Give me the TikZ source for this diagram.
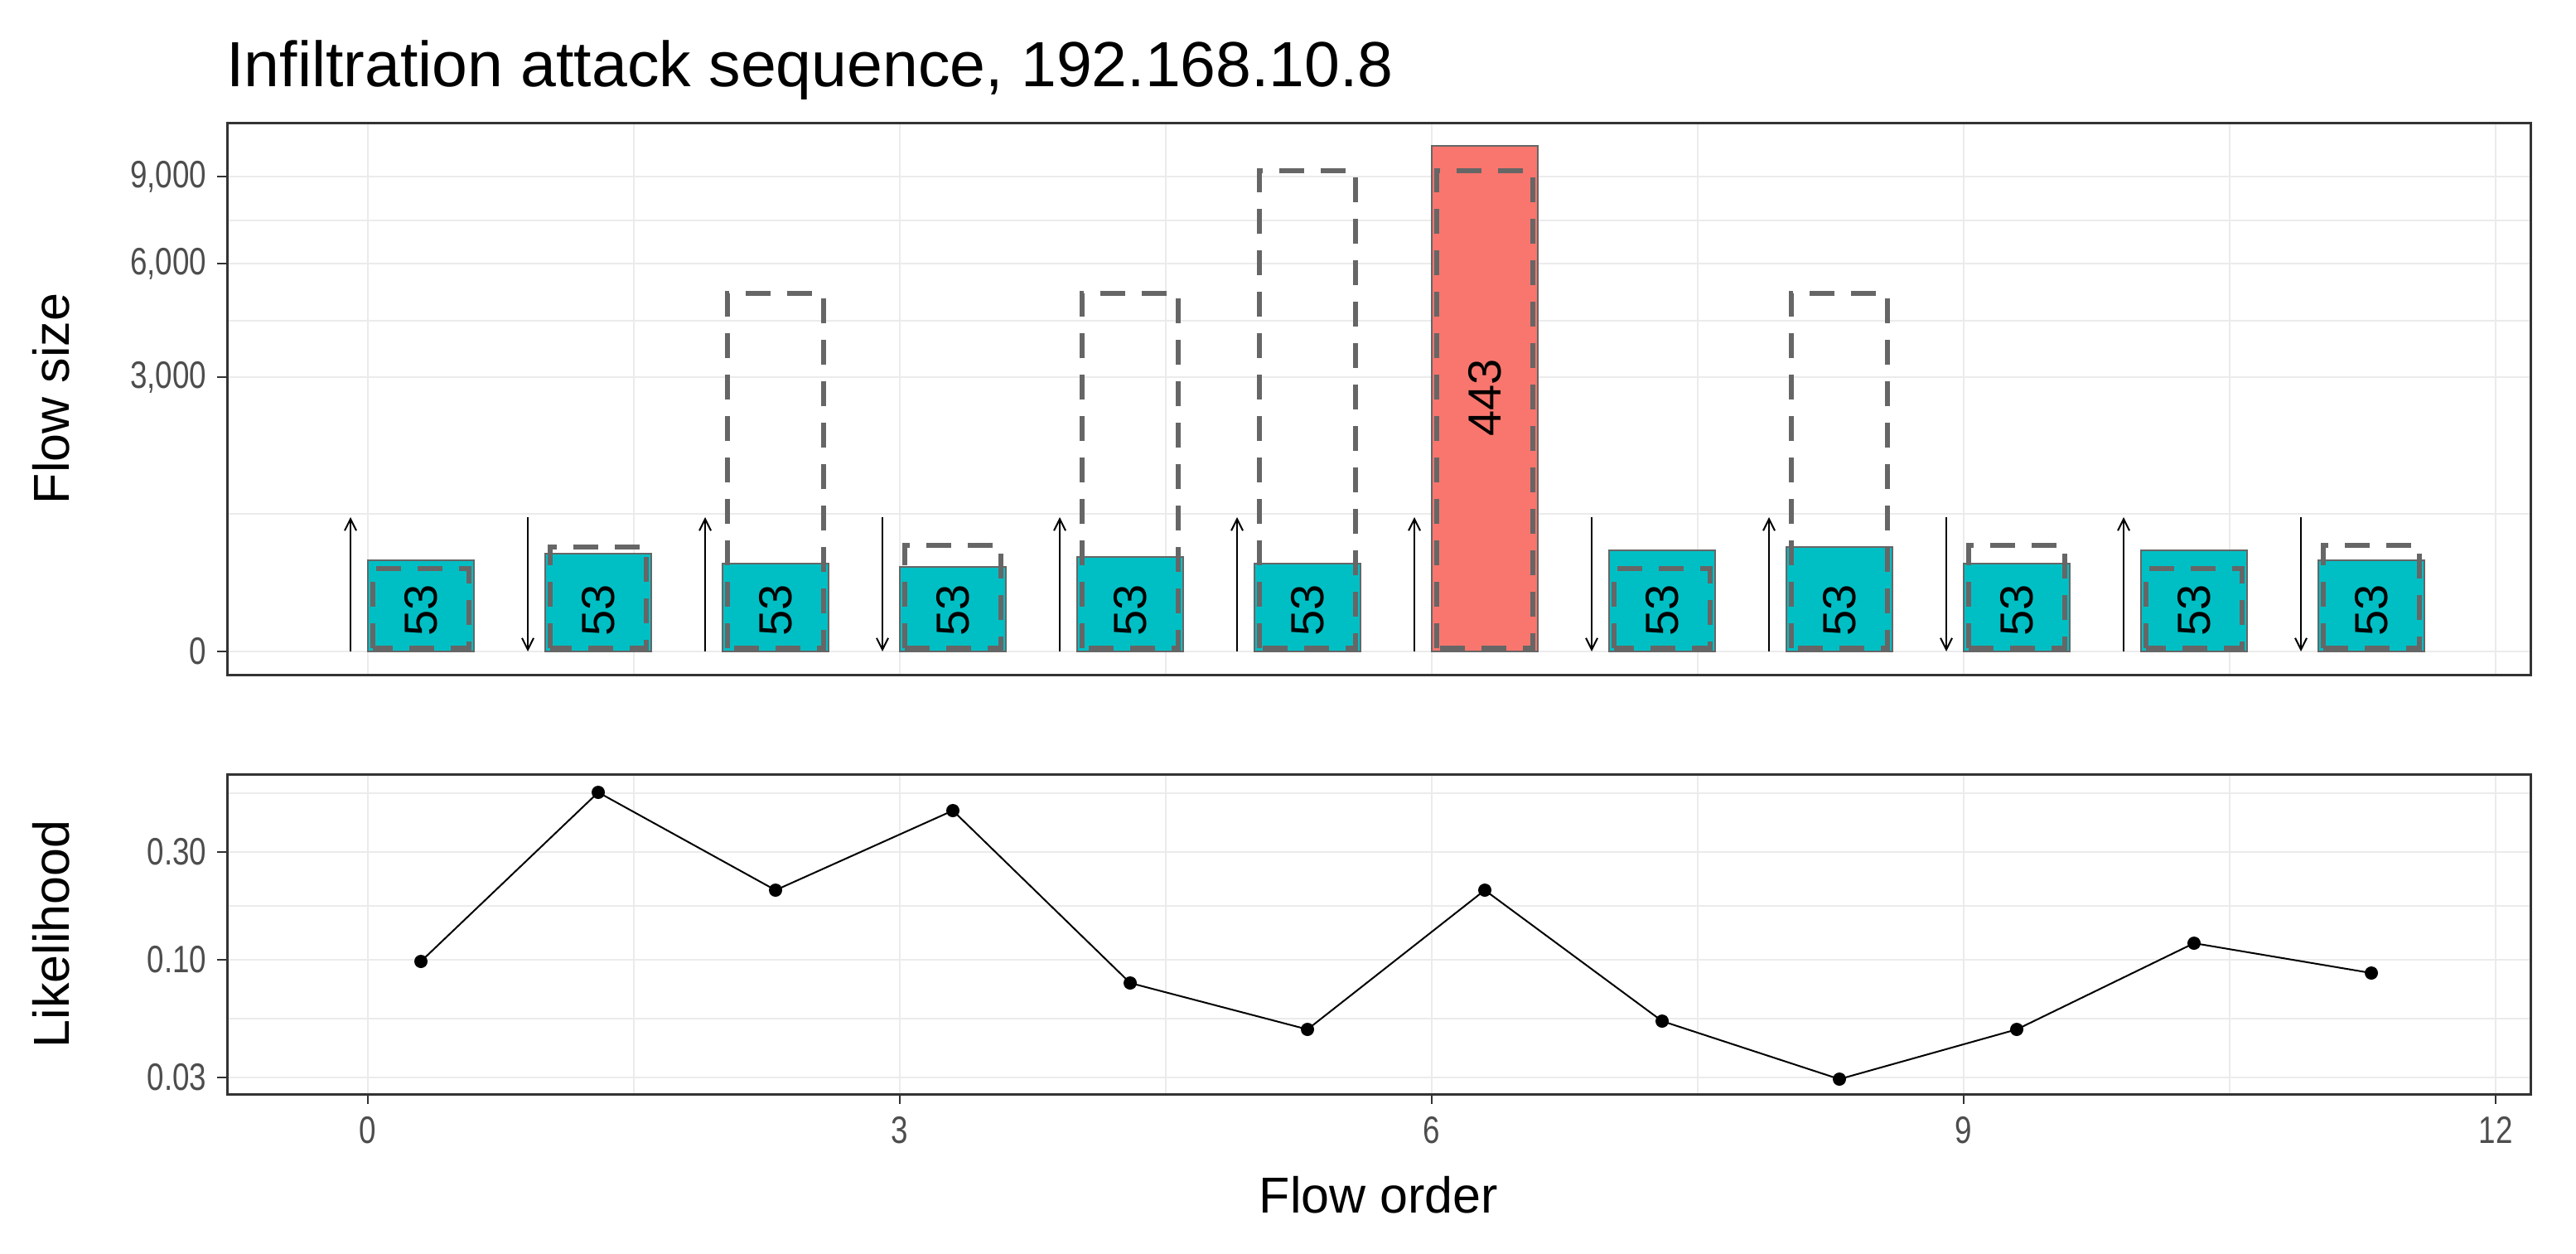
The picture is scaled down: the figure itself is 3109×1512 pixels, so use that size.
\documentclass[tikz,border=0pt]{standalone}
\usepackage{fontspec}
\setmainfont{Liberation Sans}
\usetikzlibrary{arrows.meta}
\definecolor{teal}{HTML}{00BFC4}
\definecolor{salmon}{HTML}{F8766D}
\definecolor{grid}{HTML}{EBEBEB}
\definecolor{g20}{HTML}{333333}
\definecolor{g30}{HTML}{4D4D4D}
\definecolor{g40}{HTML}{666666}
\begin{document}
\begin{tikzpicture}[x=1pt,y=-1pt,
  major/.style={grid,line width=2.4pt},
  minor/.style={grid,line width=1.3pt},
  frame/.style={g20,line width=3pt},
  tick/.style={g20,line width=2.4pt},
  ticklab/.style={g30,font=\fontsize{46}{52}\selectfont,xscale=0.8},
  axtitle/.style={black,font=\fontsize{61}{70}\selectfont},
  bar/.style={line width=2.6pt,draw=g40},
  dashbox/.style={g40,line width=6pt,dash pattern=on 30pt off 20pt},
  flowarrow/.style={black,line width=2pt,-{Straight Barb[length=14pt,width=14pt]}},
  barlab/.style={rotate=90,font=\fontsize{56}{62}\selectfont,black},
  pt/.style={circle,fill=black,inner sep=0pt,minimum size=16pt}]
\useasboundingbox (0,0) rectangle (3109,1512);
\fill[white] (0,0) rectangle (3109,1512);
% title
\node[anchor=base west,font=\fontsize{77}{86}\selectfont] (title) at (270,104) {Infiltration attack sequence, 192.168.10.8};
% ---------- top panel grid
\foreach \y in {620,387,266} \draw[minor] (274,\y) -- (3054,\y);
\foreach \x in {765,1407,2049,2691} \draw[minor] (\x,148) -- (\x,814);
\foreach \y in {786,455,318,213} \draw[major] (274,\y) -- (3054,\y);
\foreach \x in {444,1086,1728,2370,3012} \draw[major] (\x,148) -- (\x,814);
% bars: index / top of bar / top of dashed box / arrow dir (1 up, 0 down)
\foreach \i/\t/\d/\u in {0/676/686/1,1/668/660/0,2/680/354/1,3/684/658/0,4/672/354/1,5/680/206/1,7/664/686/0,8/660/354/1,9/680/658/0,10/664/686/1,11/676/658/0}{
  \pgfmathsetmacro\xl{444+214*\i}
  \pgfmathsetmacro\xr{\xl+128}
  \pgfmathsetmacro\xa{\xl-21}
  \pgfmathsetmacro\xc{\xl+64}
  \filldraw[bar,fill=teal] (\xl,786) rectangle (\xr,\t);
  \draw[dashbox] (\xl+6,782) rectangle (\xr-6,\d);
  \ifnum\u=1 \draw[flowarrow] (\xa,786) -- (\xa,624);
  \else \draw[flowarrow] (\xa,624) -- (\xa,786); \fi
  \node[barlab] (lab\i) at (\xc,736) {53};
}
% red bar
\filldraw[bar,fill=salmon] (1728,786) rectangle (1856,176);
\draw[dashbox] (1734,782) rectangle (1850,206);
\draw[flowarrow] (1707,786) -- (1707,624);
\node[barlab] (lab6) at (1792,480) {443};
% frame and axis
\draw[frame] (274,148) rectangle (3054,814);
\foreach \y/\l in {786/0,455/{3,000},318/{6,000},213/{9,000}}{
  \draw[tick] (262,\y) -- (274,\y);
  \node[ticklab,anchor=east] at (252,\y) {\l};
}
\node[axtitle,rotate=90] (ylab1) at (62,481) {Flow size};
% ---------- bottom panel
\foreach \y in {1229,1093,957} \draw[minor] (274,\y) -- (3054,\y);
\foreach \x in {765,1407,2049,2691} \draw[minor] (\x,934) -- (\x,1320);
\foreach \y in {1300,1158,1028} \draw[major] (274,\y) -- (3054,\y);
\foreach \x in {444,1086,1728,2370,3012} \draw[major] (\x,934) -- (\x,1320);
\foreach \i/\y in {0/1160,1/956,2/1074,3/978,4/1186,5/1242,6/1074,7/1232,8/1302,9/1242,10/1138,11/1174}{
  \node[pt] (p\i) at ({508+214*\i},\y) {};
}
\draw[black,line width=2pt] (p0.center) -- (p1.center) -- (p2.center) -- (p3.center) -- (p4.center) -- (p5.center) -- (p6.center) -- (p7.center) -- (p8.center) -- (p9.center) -- (p10.center) -- (p11.center);
\draw[frame] (274,934) rectangle (3054,1320);
\foreach \y/\l in {1300/0.03,1158/0.10,1028/0.30}{
  \draw[tick] (262,\y) -- (274,\y);
  \node[ticklab,anchor=east] at (252,\y) {\l};
}
\foreach \x/\l in {444/0,1086/3,1728/6,2370/9,3012/12}{
  \draw[tick] (\x,1320) -- (\x,1332);
  \node[ticklab,anchor=north] at (\x,1344) {\l};
}
\node[axtitle,rotate=90] (ylab2) at (62,1127) {Likelihood};
\node[axtitle] (xlab) at (1664,1442) {Flow order};
\end{tikzpicture}
\end{document}
